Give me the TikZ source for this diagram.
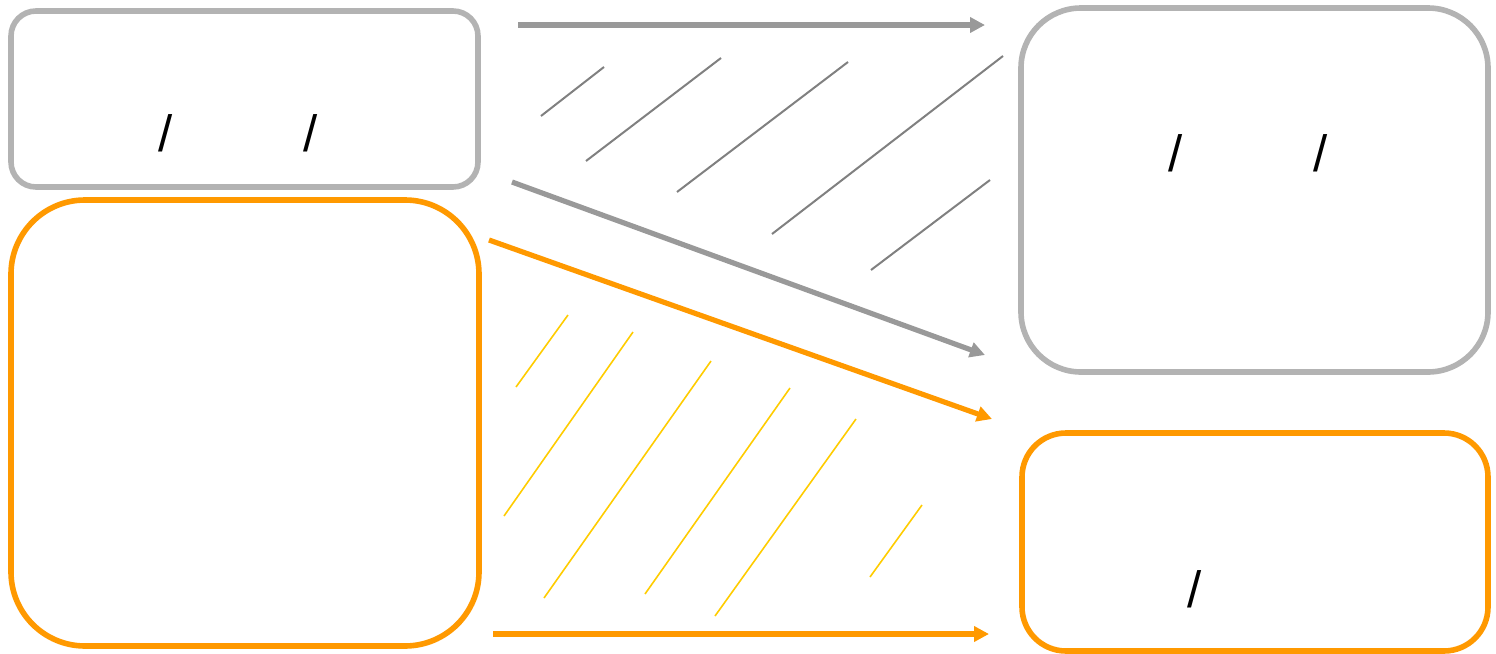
\documentclass[tikz,border=0pt]{standalone}
\usepackage{fontspec}
\setmainfont{Liberation Sans}
\usetikzlibrary{arrows.meta}
\definecolor{boxgray}{HTML}{B3B3B3}
\definecolor{arrgray}{HTML}{999999}
\definecolor{hatchgray}{HTML}{808080}
\definecolor{orng}{HTML}{FF9900}
\definecolor{yel}{HTML}{FFCC00}
\begin{document}
\begin{tikzpicture}[x=0.5pt,y=-0.5pt,
  box/.style={draw, line width=2.8pt, inner sep=0pt, fill=white},
  graybox/.style={box, draw=boxgray},
  orangebox/.style={box, draw=orng},
  slash/.style={inner sep=0pt, font=\fontsize{25.5}{30}\selectfont},
  grayarrow/.style={draw=arrgray, line width=2.6pt, -{Triangle[length=7.5pt,width=7.5pt]}},
  orangearrow/.style={draw=orng, line width=2.6pt, -{Triangle[length=7.5pt,width=7.5pt]}},
  ghatch/.style={draw=hatchgray, line width=1pt},
  yhatch/.style={draw=yel, line width=0.8pt}]
\useasboundingbox (0,0) rectangle (1496,654);
% boxes
\node[graybox, rounded corners=12.5pt, minimum width=233.5pt, minimum height=88pt] (b1) at (244.5,99) {};
\node[orangebox, rounded corners=37pt, minimum width=234pt, minimum height=223pt] (b2) at (245,423) {};
\node[graybox, rounded corners=30pt, minimum width=233.5pt, minimum height=182pt] (b3) at (1254.5,190) {};
\node[orangebox, rounded corners=22pt, minimum width=233pt, minimum height=109pt] (b4) at (1255,542) {};
% texts
\node[slash] (t1a) at (166,133) {/};
\node[slash] (t1b) at (311,133) {/};
\node[slash] (t3a) at (1176,153) {/};
\node[slash] (t3b) at (1321,153) {/};
\node[slash] (t4a) at (1195,589) {/};
% arrow end points
\coordinate (a1s) at (518,25);  \coordinate (a1e) at (985,25);
\coordinate (a2s) at (512,182); \coordinate (a2e) at (985,355);
\coordinate (a3s) at (489,240); \coordinate (a3e) at (992,419);
\coordinate (a4s) at (493,634); \coordinate (a4e) at (989,634);
\draw[grayarrow] (a1s) -- (a1e);
\draw[grayarrow] (a2s) -- (a2e);
\draw[orangearrow] (a3s) -- (a3e);
\draw[orangearrow] (a4s) -- (a4e);
% gray hatching
\coordinate (g1s) at (541,116); \coordinate (g1e) at (604,67);
\coordinate (g2s) at (586,161); \coordinate (g2e) at (721,58);
\coordinate (g3s) at (677,192); \coordinate (g3e) at (848,62);
\coordinate (g4s) at (772,234); \coordinate (g4e) at (1003,56);
\coordinate (g5s) at (871,270); \coordinate (g5e) at (990,180);
\foreach \i in {1,...,5} \draw[ghatch] (g\i s) -- (g\i e);
% yellow hatching
\coordinate (y1s) at (516,387); \coordinate (y1e) at (568,315);
\coordinate (y2s) at (504,516); \coordinate (y2e) at (633,332);
\coordinate (y3s) at (544,598); \coordinate (y3e) at (711,361);
\coordinate (y4s) at (645,594); \coordinate (y4e) at (790,388);
\coordinate (y5s) at (715,616); \coordinate (y5e) at (856,419);
\coordinate (y6s) at (870,577); \coordinate (y6e) at (922,505);
\foreach \i in {1,...,6} \draw[yhatch] (y\i s) -- (y\i e);
\end{tikzpicture}
\end{document}
